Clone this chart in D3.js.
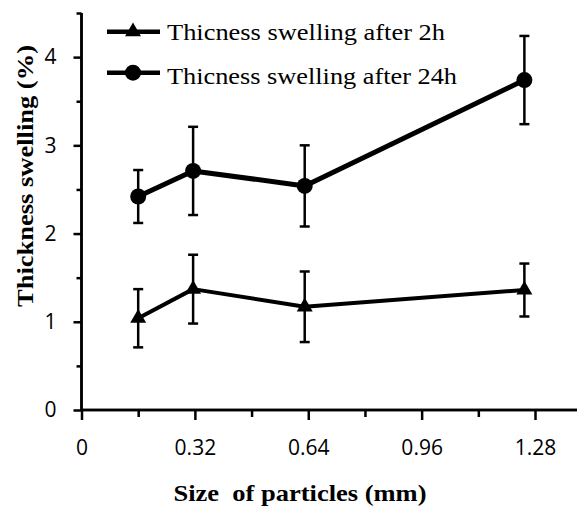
<!DOCTYPE html>
<html>
<head>
<meta charset="utf-8">
<script src="https://cdn.jsdelivr.net/npm/d3@7"></script>
<style>
  html, body { margin: 0; padding: 0; background: #fff; }
  svg { display: block; }
</style>
</head>
<body>
<svg id="chart" width="577" height="508"></svg>
<script>
// ---- data ----
const particleSize = [0.16, 0.315, 0.63, 1.25];
const swelling2h = [1.04, 1.37, 1.17, 1.36];
const error2h = [0.33, 0.39, 0.40, 0.30];
const swelling24h = [2.42, 2.71, 2.54, 3.74];
const error24h = [0.30, 0.50, 0.46, 0.50];
const xTickValues = [0, 0.32, 0.64, 0.96, 1.28];
const xTickLabels = ["0", "0.32", "0.64", "0.96", "1.28"];
const yTickValues = [0, 1, 2, 3, 4];
const yTickLabels = ["0", "1", "2", "3", "4"];
const seriesNames = ["Thicness swelling after 2h", "Thicness swelling after 24h"];
const xTitle = "Size  of particles (mm)";
const yTitle = "Thickness swelling (%)";

const svg = d3.select("#chart");
const x = d3.scaleLinear().domain([0, 1.44]).range([81.5, 591.7]);
const y = d3.scaleLinear().domain([0, 4.5]).range([410, 13]);

const tickFont = "'Open Sans', 'Liberation Sans', sans-serif";
const serif = "'Liberation Serif', 'Times New Roman', serif";

// minor ticks
const xMinor = [0.16, 0.48, 0.80, 1.12, 1.44];
const yMinor = [0.5, 1.5, 2.5, 3.5, 4.5];

const gx = svg.append("g").attr("transform", `translate(0,${y(0)})`);
gx.call(d3.axisBottom(x).tickValues(xMinor).tickSize(7).tickFormat(""));
gx.append("g").call(d3.axisBottom(x).tickValues(xTickValues).tickSize(10).tickFormat((d, i) => xTickLabels[i]).tickPadding(20));
gx.selectAll("path.domain").attr("stroke-width", 2.5).attr("stroke", "#000").attr("d", `M${x(0)},0H577`);
gx.selectAll(".tick line").attr("stroke-width", 2.5).attr("stroke", "#000");
gx.selectAll(".tick text").attr("font-family", tickFont).attr("font-size", 21).attr("fill", "#000");

const gy = svg.append("g").attr("transform", `translate(${x(0)},0)`);
gy.call(d3.axisLeft(y).tickValues(yMinor).tickSize(5).tickFormat(""));
gy.append("g").call(d3.axisLeft(y).tickValues(yTickValues).tickSize(8).tickFormat((d, i) => yTickLabels[i]).tickPadding(17));
gy.selectAll("path.domain").attr("stroke-width", 2.5).attr("stroke", "#000").attr("d", `M0,${y(0)}V${y(4.5)}`);
gy.selectAll(".tick line").attr("stroke-width", 2.5).attr("stroke", "#000");
gy.selectAll(".tick text").attr("font-family", tickFont).attr("font-size", 21).attr("fill", "#000");

// series
const series = [
  { vals: swelling2h, errs: error2h, symbol: d3.symbolTriangle, size: 110, lw: 4 },
  { vals: swelling24h, errs: error24h, symbol: d3.symbolCircle, size: Math.PI * 64, lw: 5 }
];
const line = d3.line().x(d => x(d[0])).y(d => y(d[1]));

series.forEach(s => {
  const pts = particleSize.map((p, i) => [p, s.vals[i], s.errs[i]]);
  const g = svg.append("g");
  pts.forEach(d => {
    g.append("line").attr("x1", x(d[0])).attr("x2", x(d[0]))
      .attr("y1", y(d[1] - d[2])).attr("y2", y(d[1] + d[2]))
      .attr("stroke", "#000").attr("stroke-width", 2.5);
    [d[1] - d[2], d[1] + d[2]].forEach(v => {
      g.append("line").attr("x1", x(d[0]) - 5).attr("x2", x(d[0]) + 5)
        .attr("y1", y(v)).attr("y2", y(v))
        .attr("stroke", "#000").attr("stroke-width", 2.5);
    });
  });
  g.append("path").attr("d", line(pts)).attr("fill", "none")
    .attr("stroke", "#000").attr("stroke-width", s.lw).attr("stroke-linejoin", "round");
  g.selectAll("path.m").data(pts).enter().append("path").attr("class", "m")
    .attr("d", d3.symbol().type(s.symbol).size(s.size))
    .attr("transform", d => `translate(${x(d[0])},${y(d[1])})`)
    .attr("fill", "#000");
});

// legend
const legY = [31.7, 72.7];
const legBase = [40, 84];
const legLen = [278, 290];
series.forEach((s, i) => {
  svg.append("line").attr("x1", 107).attr("x2", 160).attr("y1", legY[i]).attr("y2", legY[i])
    .attr("stroke", "#000").attr("stroke-width", 4.5);
  svg.append("path").attr("d", d3.symbol().type(s.symbol).size(s.size)())
    .attr("transform", `translate(133,${legY[i]})`).attr("fill", "#000");
  svg.append("text").attr("x", 167).attr("y", legBase[i])
    .attr("font-family", serif).attr("font-size", 24).attr("fill", "#000")
    .attr("textLength", legLen[i]).attr("lengthAdjust", "spacingAndGlyphs")
    .text(seriesNames[i]);
});

// axis titles
svg.append("text").attr("x", 300).attr("y", 501).attr("text-anchor", "middle")
  .attr("font-family", serif).attr("font-size", 24).attr("font-weight", "bold").attr("fill", "#000")
  .style("white-space", "pre")
  .attr("textLength", 253).attr("lengthAdjust", "spacingAndGlyphs")
  .text(xTitle);
svg.append("text").attr("transform", "translate(33,176) rotate(-90)").attr("text-anchor", "middle")
  .attr("font-family", serif).attr("font-size", 24).attr("font-weight", "bold").attr("fill", "#000")
  .attr("textLength", 262).attr("lengthAdjust", "spacingAndGlyphs")
  .text(yTitle);
</script>
</body>
</html>
